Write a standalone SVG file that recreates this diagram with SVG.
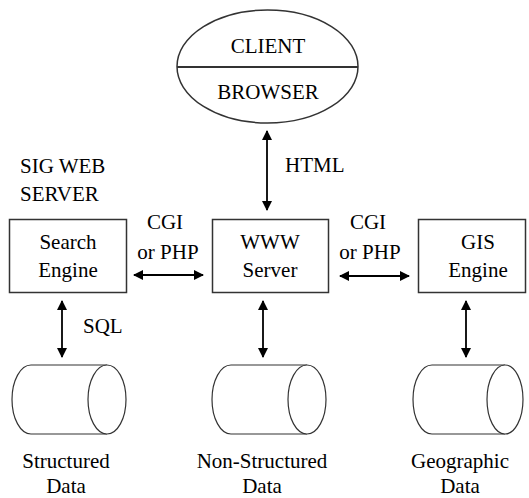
<svg xmlns="http://www.w3.org/2000/svg" width="529" height="498" viewBox="0 0 529 498">
<defs>
<marker id="ah" viewBox="0 0 10 10" refX="9" refY="5" markerWidth="10" markerHeight="10" markerUnits="userSpaceOnUse" orient="auto-start-reverse">
<path d="M0,0 L10,5 L0,10 z" fill="#000"/>
</marker>
</defs>
<rect width="529" height="498" fill="#fff"/>
<g id="client">
<ellipse cx="267.5" cy="66.5" rx="90.5" ry="56.5" fill="#fff" stroke="#333" stroke-width="1.5"/>
<line x1="177" y1="67" x2="358" y2="67" stroke="#333" stroke-width="1.8"/>
<text x="268" y="53" font-family="Times New Roman" font-size="21" text-anchor="middle">CLIENT</text>
<text x="268" y="99" font-family="Times New Roman" font-size="21" text-anchor="middle">BROWSER</text>
</g>
<g id="sigweb">
<text x="20" y="173" font-family="Times New Roman" font-size="21">SIG WEB</text>
<text x="20" y="201" font-family="Times New Roman" font-size="21">SERVER</text>
</g>
<g id="search">
<rect x="9.5" y="219.5" width="117" height="73" fill="#fff" stroke="#333" stroke-width="1.5"/>
<text x="68" y="249" font-family="Times New Roman" font-size="21" text-anchor="middle">Search</text>
<text x="68" y="277" font-family="Times New Roman" font-size="21" text-anchor="middle">Engine</text>
</g>
<g id="www">
<rect x="212.5" y="219.5" width="116" height="73" fill="#fff" stroke="#333" stroke-width="1.5"/>
<text x="270" y="249" font-family="Times New Roman" font-size="21" text-anchor="middle">WWW</text>
<text x="270" y="277" font-family="Times New Roman" font-size="21" text-anchor="middle">Server</text>
</g>
<g id="gis">
<rect x="418.5" y="219.5" width="107" height="73" fill="#fff" stroke="#333" stroke-width="1.5"/>
<text x="478" y="249" font-family="Times New Roman" font-size="21" text-anchor="middle">GIS</text>
<text x="478" y="277" font-family="Times New Roman" font-size="21" text-anchor="middle">Engine</text>
</g>
<g id="structured">
<path d="M31,365 L107,365 M31,434 L107,434 M31,365 A19,34.5 0 0 0 31,434" fill="#fff" stroke="#333" stroke-width="1.2"/>
<ellipse cx="107" cy="399.5" rx="19" ry="34.5" fill="#fff" stroke="#333" stroke-width="1.2"/>
<text x="66" y="468" font-family="Times New Roman" font-size="21" text-anchor="middle">Structured</text>
<text x="66" y="493" font-family="Times New Roman" font-size="21" text-anchor="middle">Data</text>
</g>
<g id="nonstructured">
<path d="M231,365 L307,365 M231,434 L307,434 M231,365 A19,34.5 0 0 0 231,434" fill="#fff" stroke="#333" stroke-width="1.2"/>
<ellipse cx="307" cy="399.5" rx="19" ry="34.5" fill="#fff" stroke="#333" stroke-width="1.2"/>
<text x="262" y="468" font-family="Times New Roman" font-size="21" text-anchor="middle">Non-Structured</text>
<text x="262" y="493" font-family="Times New Roman" font-size="21" text-anchor="middle">Data</text>
</g>
<g id="geographic">
<path d="M432,365 L505,365 M432,434 L505,434 M432,365 A19,34.5 0 0 0 432,434" fill="#fff" stroke="#333" stroke-width="1.2"/>
<ellipse cx="505" cy="399.5" rx="18" ry="34.5" fill="#fff" stroke="#333" stroke-width="1.2"/>
<text x="460" y="468" font-family="Times New Roman" font-size="21" text-anchor="middle">Geographic</text>
<text x="460" y="493" font-family="Times New Roman" font-size="21" text-anchor="middle">Data</text>
</g>
<g id="connectors" stroke="#000" stroke-width="1.8" fill="none" marker-start="url(#ah)" marker-end="url(#ah)">
<line x1="267" y1="131" x2="267" y2="210"/>
<line x1="134" y1="275" x2="203" y2="275"/>
<line x1="340" y1="276" x2="409" y2="276"/>
<line x1="62" y1="301" x2="62" y2="357"/>
<line x1="263" y1="301" x2="263" y2="357"/>
<line x1="466" y1="301" x2="466" y2="357"/>
</g>
<g id="labels">
<text x="285" y="172" font-family="Times New Roman" font-size="21">HTML</text>
<text x="165" y="229" font-family="Times New Roman" font-size="21" text-anchor="middle">CGI</text>
<text x="168" y="259" font-family="Times New Roman" font-size="21" text-anchor="middle">or PHP</text>
<text x="368" y="229" font-family="Times New Roman" font-size="21" text-anchor="middle">CGI</text>
<text x="370" y="259" font-family="Times New Roman" font-size="21" text-anchor="middle">or PHP</text>
<text x="83" y="333" font-family="Times New Roman" font-size="21">SQL</text>
</g>
</svg>
